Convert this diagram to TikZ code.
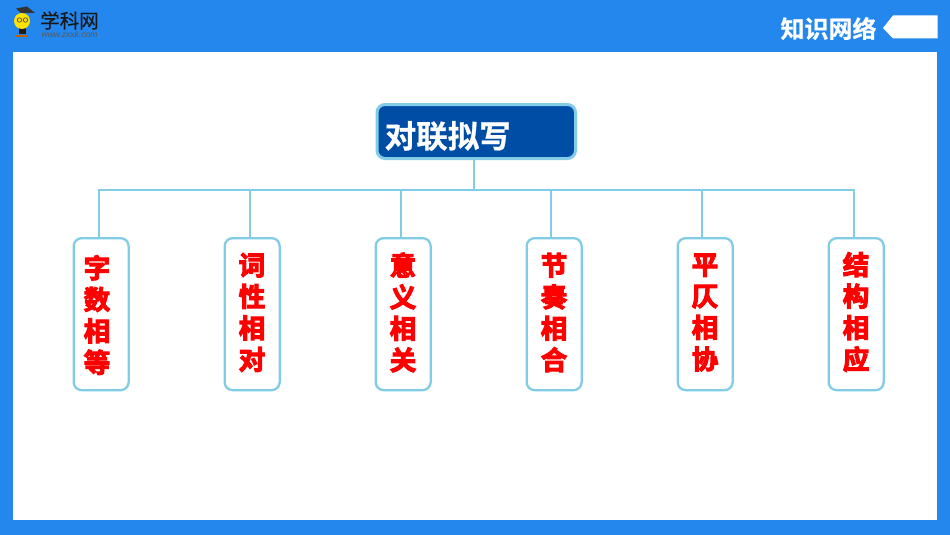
\documentclass[tikz,border=0pt]{standalone}
\usepackage{fontspec}
\newfontfamily\cjk{Noto Sans CJK SC}
\newfontfamily\cjkb[FakeBold=4]{Noto Sans CJK SC Bold}
\newfontfamily\cjkc[FakeBold=0.7]{Noto Sans CJK SC Bold}
\newfontfamily\cjkl[FakeBold=0.4]{Noto Sans CJK SC}
\newfontfamily\lat{Liberation Sans}
\definecolor{bgblue}{HTML}{2387ED}
\definecolor{linec}{HTML}{82CCE6}
\definecolor{rootfill}{HTML}{004DA6}
\tikzset{
 leaf/.style={draw=linec,line width=2.3pt,rounded corners=8pt,fill=white,minimum width=55pt,minimum height=152pt,inner sep=0pt,anchor=north west},
 leaftext/.style={text=red,font={\cjkb\fontsize{26.5}{31.5}\selectfont},align=center,inner sep=0pt},
 conn/.style={draw=linec,line width=2pt},
}
\begin{document}
\begin{tikzpicture}[x=1pt,y=-1pt]
\useasboundingbox (0,0) rectangle (950,535);
\fill[bgblue] (0,0) rectangle (950,535);
\fill[white] (13,52) rectangle (937,520);
% logo
\fill[black!80!brown] (19,28) rectangle (26,34);
\fill[orange!75!black] (15,35) rectangle (28,37.5);
\fill[yellow!85!orange] (22,21) circle (8);
\draw[black!70,line width=0.7pt] (19.5,20) circle (2.2) (25.5,20) circle (2.2);
\fill[black!80] (21,13) -- (35,13) -- (27,6.5) -- (16,8.5) -- cycle;
\node[inner sep=0pt,text=black!90,font={\cjkl\fontsize{19.5}{20}\selectfont}] (logo) at (69.5,20.5) {学科网};
\node[inner sep=0pt,text=black!65,font={\lat\itshape\fontsize{8.5}{9}\selectfont}] (url) at (69.5,34.5) {www.zxxk.com};
% header tag
\node[inner sep=0pt,text=white,font={\cjkc\fontsize{24}{24}\selectfont}] (title) at (828.5,28.5) {知识网络};
\fill[white] (883,28) -- (893,15.5) -- (937.5,15.5) -- (937.5,38.5) -- (893,38.5) -- cycle;
% root
\node[draw=linec,line width=3pt,rounded corners=8pt,fill=rootfill,minimum width=198.5pt,minimum height=54pt,inner sep=0pt,anchor=north west] (root) at (375.5,103) {};
\node[inner sep=0pt,text=white,font={\cjkc\fontsize{31.5}{31.5}\selectfont},anchor=west] (roottext) at (384.5,136) {对联拟写};
\coordinate (j) at (474,190);
\foreach \n/\x in {a/72.5,b/223.5,c/374.5,d/525.5,e/676.5,f/827.5}{
  \node[leaf] (\n) at (\x,237) {};
}
\draw[conn] (root.south -| j) -- (j);
\foreach \n/\dx in {a/-2,b/-2,c/-2,d/-3,e/-3,f/-2}{
  \draw[conn] (j) -| ([xshift=\dx pt]\n.north);
}
\node[leaftext] (ta) at (97,315) {字\\数\\相\\等};
\node[leaftext] (tb) at (252,312.5) {词\\性\\相\\对};
\node[leaftext] (tc) at (403,312.5) {意\\义\\相\\关};
\node[leaftext] (td) at (554,312.5) {节\\奏\\相\\合};
\node[leaftext] (te) at (705,312.5) {平\\仄\\相\\协};
\node[leaftext] (tf) at (856,312) {结\\构\\相\\应};
\end{tikzpicture}
\end{document}
